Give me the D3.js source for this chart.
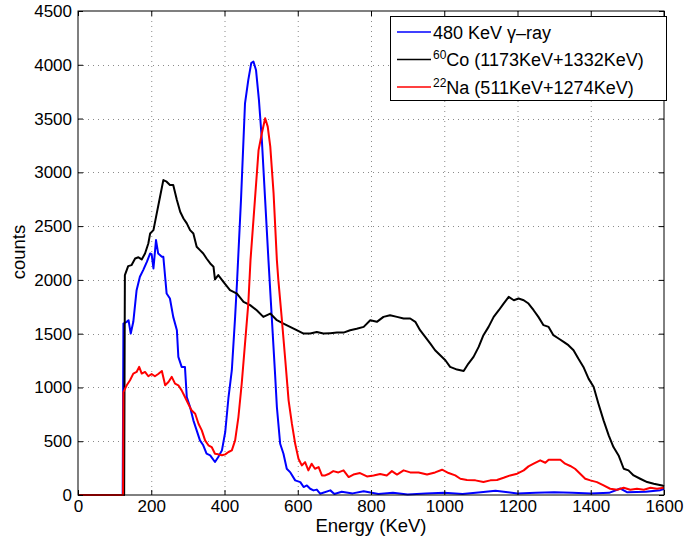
<!DOCTYPE html>
<html>
<head>
<meta charset="utf-8">
<script src="https://cdn.jsdelivr.net/npm/d3@7"></script>
<style>
  body { margin: 0; background: #fff; }
  text { font-family: "Liberation Sans", Arial, sans-serif; }
</style>
</head>
<body>
<svg width="686" height="541"></svg>
<script>
// tick labels
var xTicks = [0, 200, 400, 600, 800, 1000, 1200, 1400, 1600];
var yTicks = [0, 500, 1000, 1500, 2000, 2500, 3000, 3500, 4000, 4500];

// 480 KeV gamma-ray
var gammaEnergy = [0,122,124,133,138,144,151,160,169,178,188,197,201,206,213,219,229,233,242,251,260,270,274,283,292,297,306,315,324,333,342,351,361,374,383,393,402,411,420,429,434,445,456,465,473,479,486,494,502,511,520,529,538,543,552,561,570,579,593,607,616,625,634,643,652,661,689,700,720,750,780,820,860,900,950,1000,1050,1100,1140,1200,1250,1300,1350,1400,1450,1481,1500,1550,1590,1600];
var gammaCounts = [0,0,1594,1610,1625,1501,1610,1904,2029,2091,2168,2246,2240,2106,2370,2245,2215,2215,1873,1827,1656,1532,1284,1191,1191,911,818,694,601,508,462,384,369,307,353,415,586,911,1160,1656,1966,2742,3642,3860,4015,4030,3952,3673,3301,2742,2184,1656,1129,818,476,384,244,213,136,120,74,89,58,43,50,12,43,10,30,15,35,10,20,5,15,20,10,25,40,15,20,25,20,15,20,60,25,30,45,55];

// 60Co
var coEnergy = [0,126,128,137,146,156,165,174,183,192,197,206,215,224,233,242,251,260,270,279,288,297,306,315,324,333,342,351,361,370,374,383,397,415,434,452,470,488,506,525,543,561,579,597,616,634,652,670,689,707,725,743,761,780,798,816,834,852,871,889,907,921,934,948,962,975,989,1003,1016,1035,1053,1066,1080,1094,1107,1121,1135,1149,1162,1176,1190,1203,1217,1230,1244,1257,1271,1285,1298,1312,1326,1339,1353,1366,1380,1394,1408,1421,1435,1449,1462,1476,1490,1503,1517,1535,1554,1572,1595,1600];
var coCounts = [0,0,2045,2128,2137,2199,2210,2190,2245,2338,2432,2463,2618,2773,2928,2913,2882,2882,2742,2633,2571,2525,2463,2432,2308,2277,2245,2199,2153,2122,2004,2044,1982,1904,1873,1796,1765,1718,1656,1687,1625,1594,1563,1532,1501,1501,1516,1501,1505,1510,1510,1532,1545,1563,1625,1610,1656,1672,1656,1641,1641,1610,1532,1470,1408,1346,1299,1253,1191,1166,1153,1222,1284,1377,1486,1563,1656,1718,1780,1842,1811,1827,1811,1780,1718,1656,1579,1563,1486,1455,1424,1393,1346,1269,1191,1082,1004,849,694,555,446,368,244,229,182,151,120,105,89,80];

// 22Na
var naEnergy = [0,123,124,133,142,151,160,167,174,183,192,201,210,219,229,238,247,256,265,274,283,292,301,310,320,329,338,347,356,365,374,383,393,402,411,420,429,438,447,456,465,471,483,493,502,511,518,525,534,543,547,556,566,575,584,593,602,611,620,629,638,647,657,666,675,684,697,711,725,739,752,770,789,807,825,843,857,871,889,907,930,953,975,994,1012,1030,1044,1062,1085,1107,1126,1144,1162,1180,1199,1217,1230,1244,1262,1276,1285,1298,1317,1330,1344,1357,1371,1385,1399,1417,1435,1453,1472,1490,1508,1526,1545,1563,1581,1600];
var naCounts = [0,0,957,1020,1067,1129,1144,1191,1129,1144,1104,1125,1104,1125,1153,1020,1051,1098,1036,1020,973,911,849,787,756,663,601,508,462,446,384,378,369,378,400,415,508,725,1036,1408,1780,2184,2742,3207,3363,3503,3425,3239,2804,2184,2000,1656,1253,880,663,476,337,275,306,229,291,244,260,182,182,195,222,210,229,167,190,204,173,182,195,182,222,190,229,210,210,190,210,235,204,182,151,140,136,120,136,140,160,182,198,229,266,291,322,300,328,328,328,291,270,244,198,151,136,120,89,58,49,67,49,58,49,67,58,67];

var svg = d3.select("svg");

const margin = { left: 78, right: 22, top: 11, bottom: 46 },
      width  = 686 - margin.left - margin.right,
      height = 541 - margin.top - margin.bottom;

var x = d3.scaleLinear().domain([0, 1600]).range([0, width]);
var y = d3.scaleLinear().domain([0, 4500]).range([height, 0]);

var g = svg.append("g").attr("transform", "translate(" + margin.left + "," + margin.top + ")");

var grid_style = {
    "stroke": "#8a8a8a",
    "stroke-width": 1,
    "stroke-dasharray": "1,4"
};

// dotted grid
xTicks.slice(1, -1).forEach(function (t) {
  var l = g.append("line")
      .attr("x1", x(t) + 0.5).attr("x2", x(t) + 0.5)
      .attr("y1", 0).attr("y2", height);
  for (var k in grid_style) l.style(k, grid_style[k]);
});
yTicks.slice(1, -1).forEach(function (t) {
  var l = g.append("line")
      .attr("x1", 0).attr("x2", width)
      .attr("y1", Math.round(y(t)) + 0.5).attr("y2", Math.round(y(t)) + 0.5);
  for (var k in grid_style) l.style(k, grid_style[k]);
});

// curves
var line = d3.line()
    .x(function (d) { return x(d[0]); })
    .y(function (d) { return y(d[1]); });

var series = [
  { e: gammaEnergy, c: gammaCounts, color: "#0000ff" },
  { e: coEnergy,    c: coCounts,    color: "#000000" },
  { e: naEnergy,    c: naCounts,    color: "#ff0000" }
];

series.forEach(function (s) {
  g.append("path")
      .datum(d3.zip(s.e, s.c))
      .attr("d", line)
      .style("fill", "none")
      .style("stroke", s.color)
      .style("stroke-width", 2)
      .style("stroke-linejoin", "round");
});

// axes with inner ticks on all sides
var fmt = d3.format("d");
g.append("g").attr("transform", "translate(0," + height + ")")
    .call(d3.axisBottom(x).tickValues(xTicks).tickFormat(fmt).tickSizeInner(-5).tickSizeOuter(0).tickPadding(5));
g.append("g")
    .call(d3.axisLeft(y).tickValues(yTicks).tickFormat(fmt).tickSizeInner(-5).tickSizeOuter(0).tickPadding(6));
g.append("g")
    .call(d3.axisTop(x).tickValues(xTicks).tickSizeInner(-5).tickSizeOuter(0).tickFormat(""));
g.append("g").attr("transform", "translate(" + width + ",0)")
    .call(d3.axisRight(y).tickValues(yTicks).tickSizeInner(-5).tickSizeOuter(0).tickFormat(""));

g.selectAll(".domain").remove();
g.selectAll(".tick line").attr("stroke", "#000");
g.selectAll(".tick text")
    .attr("font-family", "Liberation Sans, Arial, sans-serif")
    .attr("font-size", 17)
    .attr("fill", "#000");

g.append("rect")
    .attr("x", 0).attr("y", 0)
    .attr("width", width).attr("height", height)
    .style("fill", "none")
    .style("stroke", "#000")
    .style("stroke-width", 1);

// axis titles
svg.append("text")
    .attr("x", margin.left + width / 2)
    .attr("y", 532)
    .attr("text-anchor", "middle")
    .attr("font-size", 18.5)
    .text("Energy (KeV)");
svg.append("text")
    .attr("transform", "translate(25,252) rotate(-90)")
    .attr("text-anchor", "middle")
    .attr("font-size", 18.5)
    .text("counts");

// legend
var legend = svg.append("g");
legend.append("rect")
    .attr("x", 390.5).attr("y", 16.5)
    .attr("width", 276).attr("height", 84)
    .style("fill", "#fff")
    .style("stroke", "#000")
    .style("stroke-width", 1);

var legendRows = [
  { color: "#0000ff", parts: [["480 KeV γ–ray", false]] },
  { color: "#000000", parts: [["60", true], ["Co (1173KeV+1332KeV)", false]] },
  { color: "#ff0000", parts: [["22", true], ["Na (511KeV+1274KeV)", false]] }
];

legendRows.forEach(function (r, i) {
  var cy = 32 + i * 27.5;
  legend.append("line")
      .attr("x1", 397).attr("x2", 431)
      .attr("y1", cy).attr("y2", cy)
      .style("stroke", r.color)
      .style("stroke-width", 1.5);
  var t = legend.append("text")
      .attr("x", 433).attr("y", cy + 6.5)
      .attr("font-size", 18)
      .attr("fill", "#000");
  r.parts.forEach(function (p) {
    if (p[1]) {
      t.append("tspan").attr("font-size", 12).attr("dy", -7).text(p[0]);
    } else {
      t.append("tspan").attr("dy", r.parts.length > 1 ? 7 : 0).text(p[0]);
    }
  });
});
</script>
</body>
</html>
